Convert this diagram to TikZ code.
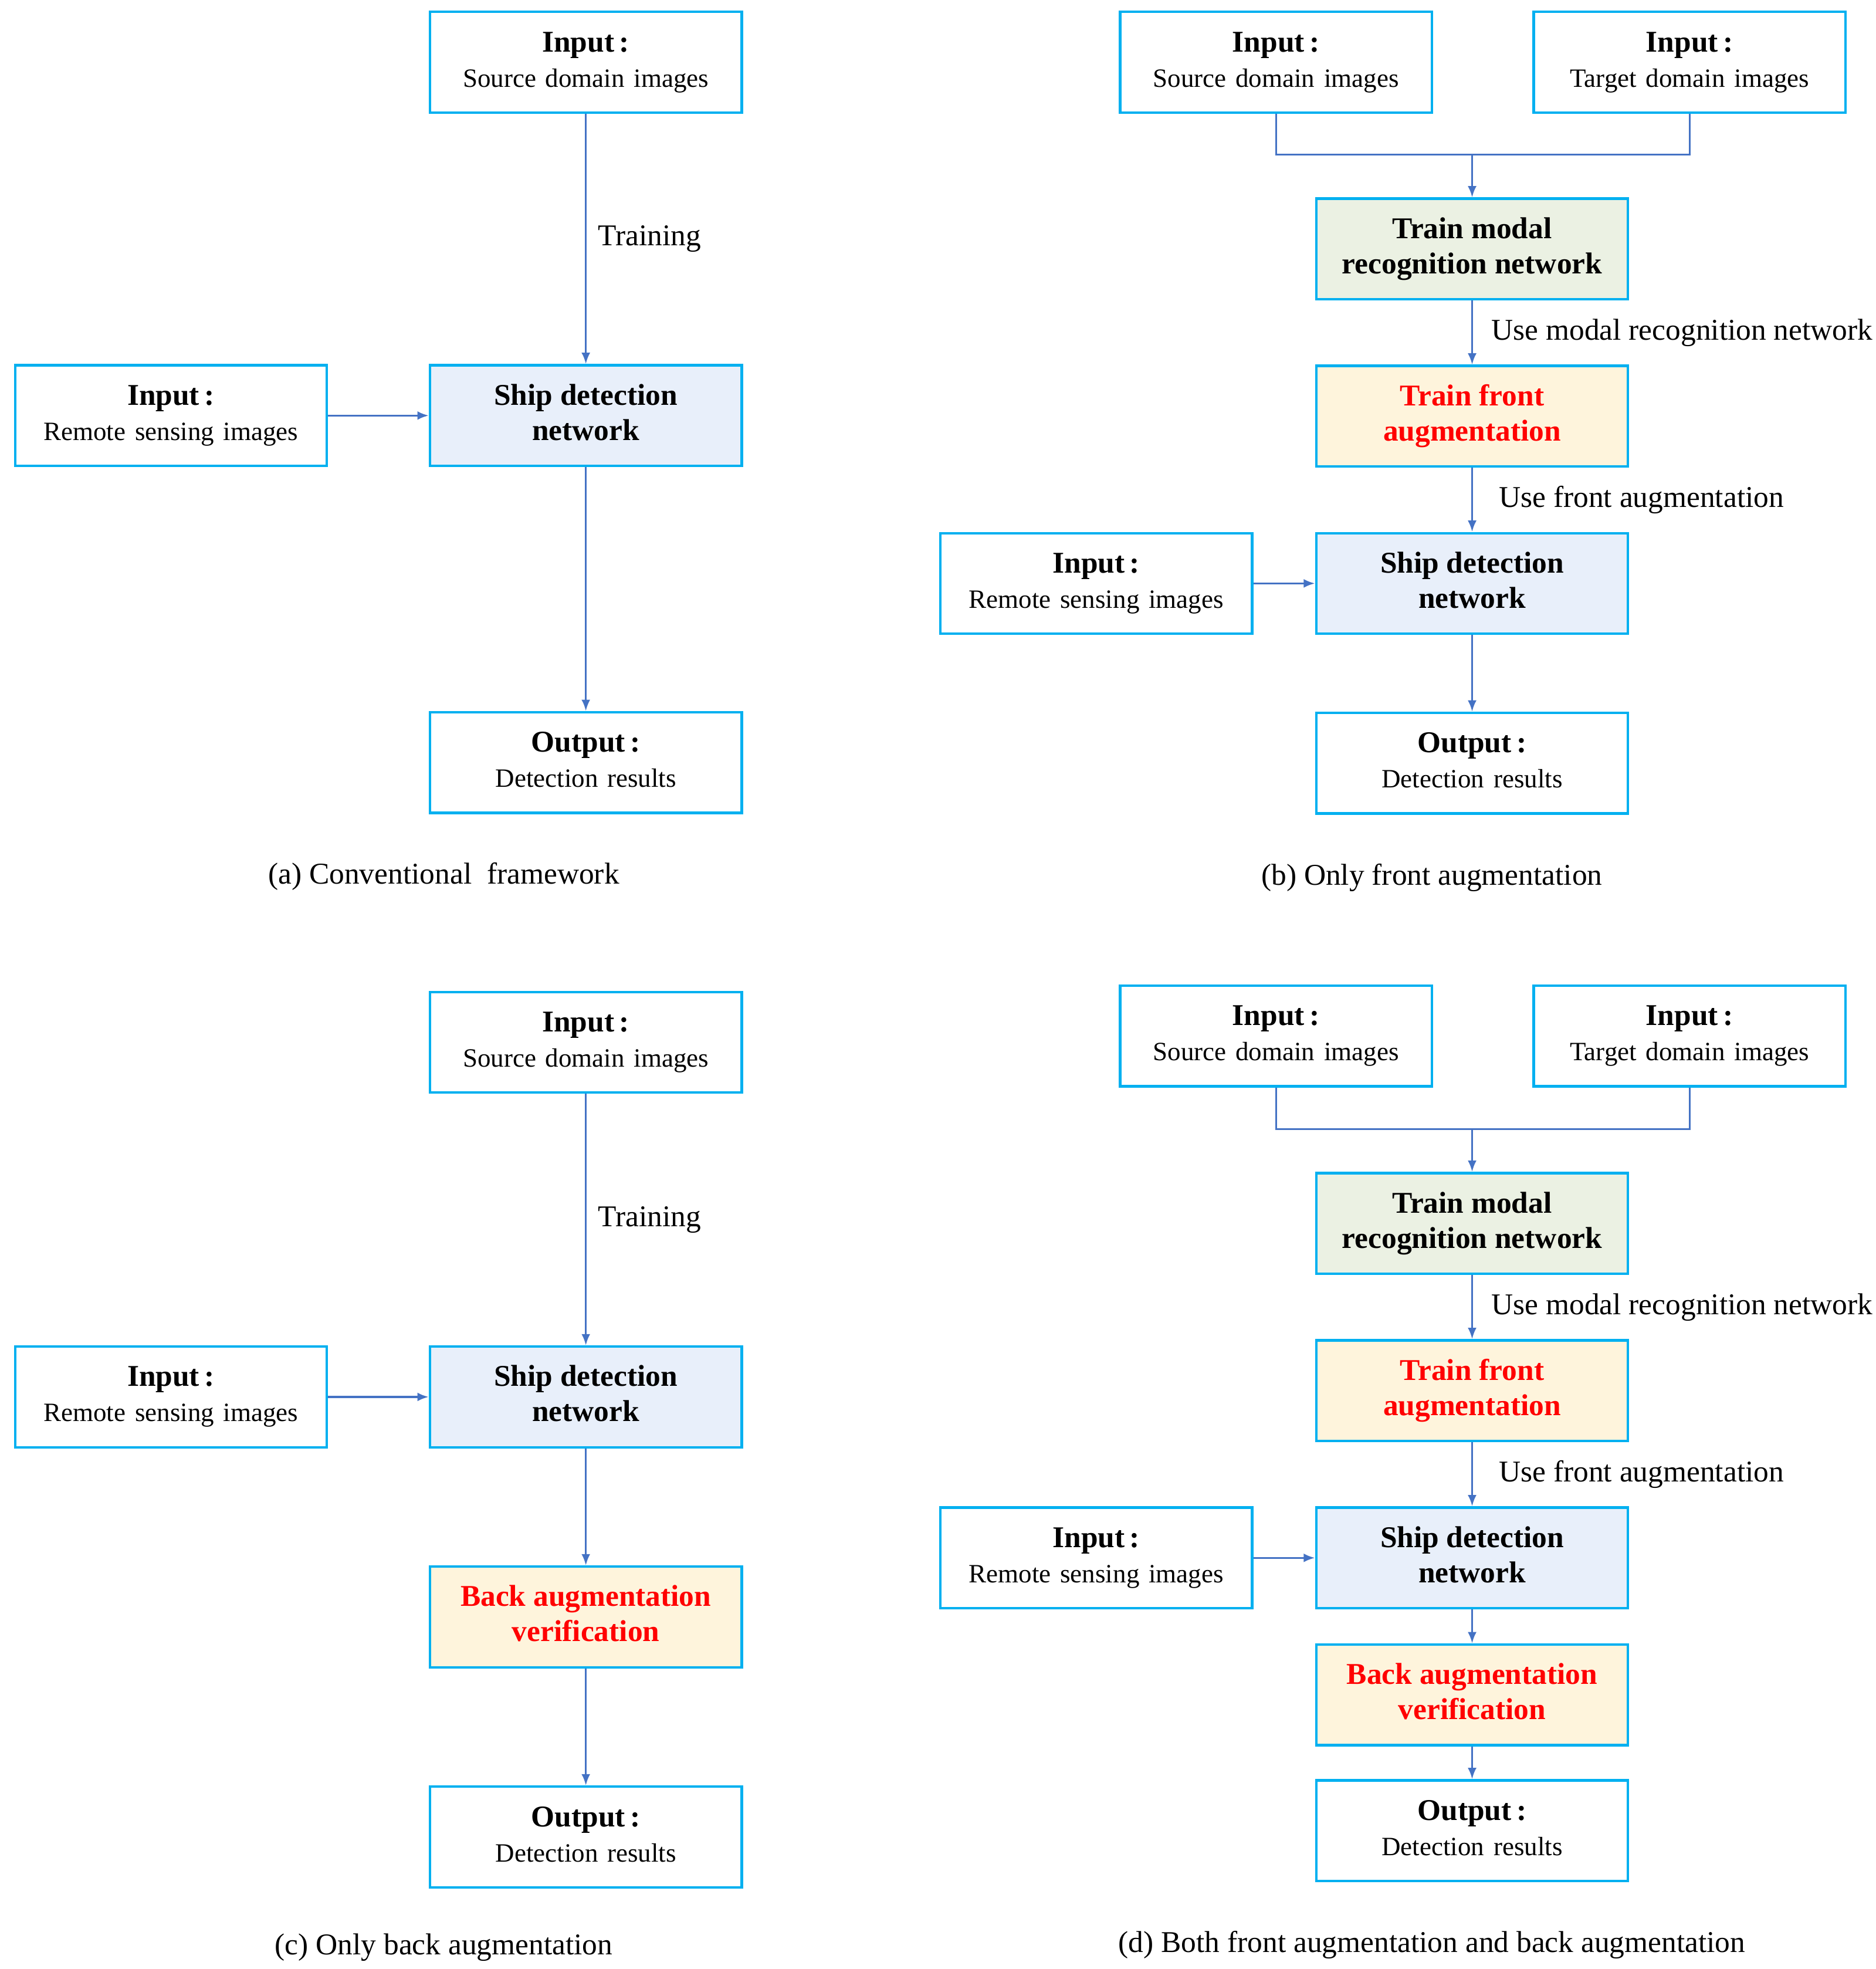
\documentclass[tikz,border=0pt]{standalone}
\usepackage{fontspec}
\setmainfont{Liberation Serif}
\usepackage{tikz}
\usetikzlibrary{positioning, arrows.meta}

\definecolor{boxcyan}{HTML}{00B0F0}
\definecolor{linkblue}{HTML}{4472C4}
\definecolor{netblue}{HTML}{E8EFFA}
\definecolor{modalgreen}{HTML}{EBF1E3}
\definecolor{augyellow}{HTML}{FEF4DC}
\definecolor{augred}{HTML}{FF0000}

\newcommand{\subtxt}[1]{{\fontsize{10.5}{12}\selectfont\spaceskip=.35em plus .1em #1}}

\tikzset{
  box/.style = {rectangle, draw = boxcyan, line width = 1pt, minimum width = 124pt,
                minimum height = 40pt, inner sep = 2pt,
                font = \fontsize{12}{14}\selectfont},
  iobox/.style = {box, fill = white},
  netbox/.style = {box, fill = netblue, font = \fontsize{12}{14}\selectfont\bfseries},
  modalbox/.style = {box, fill = modalgreen, font = \fontsize{12}{14}\selectfont\bfseries},
  augbox/.style = {box, fill = augyellow, text = augred, font = \fontsize{12}{14}\selectfont\bfseries},
  link/.style = {draw = linkblue, line width = 0.75pt},
  arrow/.style = {link, -{Latex[length = 4.5pt, width = 3.5pt]}},
  lbl/.style = {font = \fontsize{12}{14}\selectfont},
  caption/.style = {font = \fontsize{12}{14}\selectfont}
}

\begin{document}
\begin{tikzpicture}[x = 1pt, y = 1pt]

  \useasboundingbox (0,0) rectangle (746,-783);

  % (a) conventional framework
  \node [iobox] (srca) at (233,-24.75)
  {\begin{tabular}{c} \textbf{Input\,:} \\ \subtxt{Source domain images} \end{tabular}};

  \node [netbox] (shipa) [below = 99.5pt of srca]
  {\begin{tabular}{c} Ship detection \\ network \end{tabular}};

  \node [iobox] (remotea) [left = 40pt of shipa]
  {\begin{tabular}{c} \textbf{Input\,:} \\ \subtxt{Remote sensing images} \end{tabular}};

  \node [iobox] (outa) [below = 97pt of shipa]
  {\begin{tabular}{c} \textbf{Output\,:} \\ \subtxt{Detection results} \end{tabular}};

  \draw [arrow] (srca) -- node [lbl, right, xshift = 1.2pt] {Training} (shipa);
  \draw [arrow] (remotea) -- (shipa);
  \draw [arrow] (shipa) -- (outa);

  \node [caption] (capa) at (176.5,-348.5) {(a) Conventional~ framework};

  % (b) only front augmentation
  \node [iobox] (srcb) at (507.5,-24.75)
  {\begin{tabular}{c} \textbf{Input\,:} \\ \subtxt{Source domain images} \end{tabular}};

  \node [iobox] (tgtb) [right = 39.5pt of srcb]
  {\begin{tabular}{c} \textbf{Input\,:} \\ \subtxt{Target domain images} \end{tabular}};

  \node [modalbox] (modalb) at (585.5,-99)
  {\begin{tabular}{c} Train modal \\ recognition network \end{tabular}};

  \node [augbox] (frontb) [below = 25.5pt of modalb]
  {\begin{tabular}{c} Train front \\ augmentation \end{tabular}};

  \node [netbox] (shipb) [below = 25.5pt of frontb]
  {\begin{tabular}{c} Ship detection \\ network \end{tabular}};

  \node [iobox] (remoteb) [left = 24.5pt of shipb]
  {\begin{tabular}{c} \textbf{Input\,:} \\ \subtxt{Remote sensing images} \end{tabular}};

  \node [iobox] (outb) [below = 30.5pt of shipb]
  {\begin{tabular}{c} \textbf{Output\,:} \\ \subtxt{Detection results} \end{tabular}};

  \coordinate (joinb) at ([yshift = 17pt] modalb.north);

  \draw [link] (srcb) |- (joinb) -| (tgtb);
  \draw [arrow] (joinb) -- (modalb);
  \draw [arrow] (modalb) -- node [lbl, right, xshift = 4pt] {Use modal recognition network} (frontb);
  \draw [arrow] (frontb) -- node [lbl, right, xshift = 7pt] {Use front augmentation} (shipb);
  \draw [arrow] (remoteb) -- (shipb);
  \draw [arrow] (shipb) -- (outb);

  \node [caption] (capb) at (569.5,-349) {(b) Only front augmentation};

  % (c) only back augmentation
  \node [iobox] (srcc) at (233,-414.5)
  {\begin{tabular}{c} \textbf{Input\,:} \\ \subtxt{Source domain images} \end{tabular}};

  \node [netbox] (shipc) [below = 100pt of srcc]
  {\begin{tabular}{c} Ship detection \\ network \end{tabular}};

  \node [iobox] (remotec) [left = 40pt of shipc]
  {\begin{tabular}{c} \textbf{Input\,:} \\ \subtxt{Remote sensing images} \end{tabular}};

  \node [augbox] (backc) [below = 46.5pt of shipc]
  {\begin{tabular}{c} Back augmentation \\ verification \end{tabular}};

  \node [iobox] (outc) [below = 46.5pt of backc]
  {\begin{tabular}{c} \textbf{Output\,:} \\ \subtxt{Detection results} \end{tabular}};

  \draw [arrow] (srcc) -- node [lbl, right, xshift = 1.2pt] {Training} (shipc);
  \draw [arrow] (remotec) -- (shipc);
  \draw [arrow] (shipc) -- (backc);
  \draw [arrow] (backc) -- (outc);

  \node [caption] (capc) at (176.5,-774.5) {(c) Only back augmentation};

  % (d) both front and back augmentation
  \node [iobox] (srcd) at (507.5,-412)
  {\begin{tabular}{c} \textbf{Input\,:} \\ \subtxt{Source domain images} \end{tabular}};

  \node [iobox] (tgtd) [right = 39.5pt of srcd]
  {\begin{tabular}{c} \textbf{Input\,:} \\ \subtxt{Target domain images} \end{tabular}};

  \node [modalbox] (modald) at (585.5,-486.5)
  {\begin{tabular}{c} Train modal \\ recognition network \end{tabular}};

  \node [augbox] (frontd) [below = 25.5pt of modald]
  {\begin{tabular}{c} Train front \\ augmentation \end{tabular}};

  \node [netbox] (shipd) [below = 25.5pt of frontd]
  {\begin{tabular}{c} Ship detection \\ network \end{tabular}};

  \node [iobox] (remoted) [left = 24.5pt of shipd]
  {\begin{tabular}{c} \textbf{Input\,:} \\ \subtxt{Remote sensing images} \end{tabular}};

  \node [augbox] (backd) [below = 13.5pt of shipd]
  {\begin{tabular}{c} Back augmentation \\ verification \end{tabular}};

  \node [iobox] (outd) [below = 13pt of backd]
  {\begin{tabular}{c} \textbf{Output\,:} \\ \subtxt{Detection results} \end{tabular}};

  \coordinate (joind) at ([yshift = 17pt] modald.north);

  \draw [link] (srcd) |- (joind) -| (tgtd);
  \draw [arrow] (joind) -- (modald);
  \draw [arrow] (modald) -- node [lbl, right, xshift = 4pt] {Use modal recognition network} (frontd);
  \draw [arrow] (frontd) -- node [lbl, right, xshift = 7pt] {Use front augmentation} (shipd);
  \draw [arrow] (remoted) -- (shipd);
  \draw [arrow] (shipd) -- (backd);
  \draw [arrow] (backd) -- (outd);

  \node [caption] (capd) at (569.5,-773.5) {(d) Both front augmentation and back augmentation};

\end{tikzpicture}
\end{document}
